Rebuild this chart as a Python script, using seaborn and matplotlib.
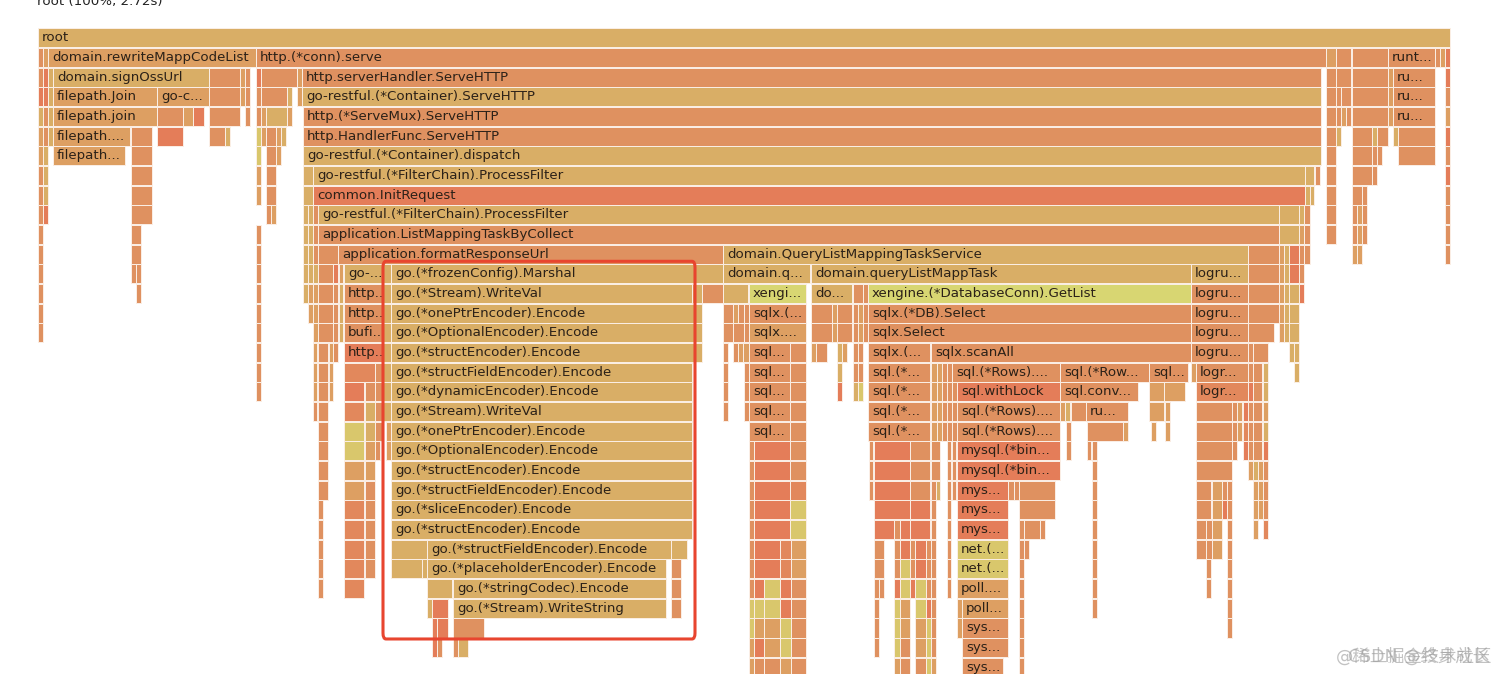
import matplotlib
matplotlib.use("Agg")
import matplotlib.pyplot as plt
import seaborn as sns
from matplotlib.patches import FancyBboxPatch

# Frames per stack depth: (start, stop, colour group, label). One sample is about 2ms
depth_00 = [(38, 1449, "a", "root")]
depth_01 = [(38, 42, "o", ""), (43, 47, "m", ""), (48, 255, "m", "domain.rewriteMappCodeList"),
            (256, 1325, "o", "http.(*conn).serve"), (1326, 1335, "m", ""), (1336, 1350, "o", ""),
            (1352, 1387, "o", ""), (1388, 1434, "o", "runt..."), (1435, 1439, "o", ""),
            (1440, 1444, "m", ""), (1445, 1449, "r", "")]
depth_02 = [(38, 42, "o", ""), (43, 47, "r", ""), (48, 52, "a", ""), (53, 208, "a", "domain.signOssUrl"),
            (209, 239, "o", ""), (240, 244, "m", ""), (245, 249, "o", ""), (256, 260, "r", ""),
            (261, 296, "o", ""), (297, 301, "m", ""), (302, 1320, "o", "http.serverHandler.ServeHTTP"),
            (1326, 1335, "o", ""), (1336, 1350, "o", ""), (1352, 1387, "o", ""), (1388, 1392, "m", ""),
            (1393, 1434, "o", "ru..."), (1445, 1449, "r", "")]
depth_03 = [(38, 42, "r", ""), (43, 47, "r", ""), (48, 52, "a", ""), (53, 156, "m", "filepath.Join"),
            (157, 208, "m", "go-c..."), (209, 239, "o", ""), (240, 244, "m", ""), (245, 249, "o", ""),
            (256, 260, "o", ""), (261, 286, "o", ""), (287, 291, "a", ""), (297, 301, "m", ""),
            (302, 1320, "a", "go-restful.(*Container).ServeHTTP"), (1326, 1335, "o", ""), (1336, 1340, "o", ""),
            (1341, 1350, "o", ""), (1352, 1387, "o", ""), (1388, 1392, "m", ""), (1393, 1434, "o", "ru..."),
            (1445, 1449, "o", "")]
depth_04 = [(38, 42, "a", ""), (43, 47, "o", ""), (48, 52, "a", ""), (53, 156, "m", "filepath.join"),
            (157, 182, "o", ""), (183, 192, "m", ""), (193, 203, "r", ""), (209, 239, "o", ""),
            (245, 249, "o", ""), (256, 260, "o", ""), (261, 265, "m", ""), (266, 286, "a", ""),
            (287, 291, "m", ""), (303, 1320, "o", "http.(*ServeMux).ServeHTTP"), (1326, 1335, "o", ""),
            (1336, 1340, "o", ""), (1341, 1345, "m", ""), (1346, 1350, "o", ""), (1352, 1387, "o", ""),
            (1388, 1392, "m", ""), (1393, 1434, "o", "ru..."), (1445, 1449, "m", "")]
depth_05 = [(38, 42, "m", ""), (43, 47, "o", ""), (48, 52, "a", ""), (53, 129, "m", "filepath...."),
            (131, 151, "o", ""), (157, 182, "r", ""), (209, 224, "o", ""), (225, 229, "a", ""),
            (256, 260, "y", ""), (261, 265, "m", ""), (266, 275, "o", ""), (276, 280, "m", ""),
            (281, 285, "a", ""), (303, 1320, "o", "http.HandlerFunc.ServeHTTP"), (1326, 1335, "o", ""),
            (1336, 1340, "a", ""), (1352, 1371, "o", ""), (1372, 1376, "a", ""), (1377, 1387, "o", ""),
            (1393, 1397, "a", ""), (1398, 1434, "o", ""), (1445, 1449, "r", "")]
depth_06 = [(38, 42, "m", ""), (43, 47, "a", ""), (53, 124, "m", "filepath..."), (131, 151, "o", ""),
            (256, 260, "y", ""), (266, 275, "o", ""), (276, 280, "m", ""),
            (303, 1320, "a", "go-restful.(*Container).dispatch"), (1326, 1335, "o", ""), (1352, 1371, "o", ""),
            (1372, 1376, "o", ""), (1377, 1381, "o", ""), (1398, 1434, "o", ""), (1445, 1449, "o", "")]
depth_07 = [(38, 42, "o", ""), (43, 47, "a", ""), (131, 151, "o", ""), (256, 260, "m", ""),
            (266, 275, "o", ""), (303, 312, "a", ""), (313, 1304, "a", "go-restful.(*FilterChain).ProcessFilter"),
            (1305, 1313, "a", ""), (1315, 1319, "o", ""), (1326, 1335, "o", ""), (1352, 1371, "o", ""),
            (1372, 1376, "o", ""), (1445, 1449, "r", "")]
depth_08 = [(38, 42, "o", ""), (43, 47, "a", ""), (131, 151, "o", ""), (256, 260, "m", ""),
            (266, 275, "o", ""), (303, 312, "a", ""), (313, 1304, "r", "common.InitRequest"),
            (1305, 1309, "a", ""), (1310, 1313, "a", ""), (1326, 1335, "o", ""), (1352, 1361, "o", ""),
            (1362, 1366, "o", ""), (1445, 1449, "o", "")]
depth_09 = [(38, 42, "o", ""), (43, 47, "r", ""), (131, 151, "o", ""), (266, 270, "o", ""), (271, 275, "m", ""),
            (303, 307, "a", ""), (308, 312, "a", ""), (313, 317, "o", ""),
            (318, 1278, "a", "go-restful.(*FilterChain).ProcessFilter"), (1279, 1298, "a", ""),
            (1299, 1303, "a", ""), (1304, 1309, "o", ""), (1326, 1335, "o", ""), (1352, 1356, "o", ""),
            (1357, 1361, "m", ""), (1362, 1366, "o", ""), (1445, 1449, "o", "")]
depth_10 = [(38, 42, "o", ""), (131, 140, "o", ""), (256, 260, "o", ""), (303, 307, "a", ""), (308, 312, "a", ""),
            (313, 317, "o", ""), (318, 1278, "o", "application.ListMappingTaskByCollect"), (1279, 1298, "a", ""),
            (1299, 1303, "m", ""), (1304, 1309, "o", ""), (1326, 1335, "o", ""), (1352, 1356, "o", ""),
            (1357, 1361, "m", ""), (1362, 1366, "o", ""), (1445, 1449, "o", "")]
depth_11 = [(38, 42, "o", ""), (131, 140, "o", ""), (256, 260, "o", ""), (303, 307, "a", ""), (308, 312, "a", ""),
            (313, 317, "o", ""), (318, 337, "o", ""), (338, 722, "o", "application.formatResponseUrl"),
            (723, 1247, "a", "domain.QueryListMappingTaskService"), (1248, 1278, "o", ""), (1279, 1283, "m", ""),
            (1284, 1288, "a", ""), (1289, 1298, "r", ""), (1299, 1303, "o", ""), (1304, 1309, "o", ""),
            (1352, 1356, "m", ""), (1357, 1361, "m", ""), (1445, 1449, "o", "")]
depth_12 = [(38, 42, "o", ""), (131, 135, "o", ""), (136, 140, "o", ""), (256, 260, "o", ""), (303, 307, "a", ""),
            (308, 312, "a", ""), (313, 317, "a", ""), (318, 332, "o", ""), (333, 337, "r", ""), (339, 342, "m", ""),
            (344, 382, "a", "go-..."), (383, 390, "a", ""), (391, 722, "a", "go.(*frozenConfig).Marshal"),
            (723, 809, "a", "domain.q..."), (811, 1190, "a", "domain.queryListMappTask"),
            (1191, 1247, "a", "logru..."), (1248, 1278, "o", ""), (1279, 1283, "m", ""), (1284, 1288, "a", ""),
            (1289, 1298, "r", ""), (1299, 1303, "o", "")]
depth_13 = [(38, 42, "o", ""), (136, 140, "o", ""), (256, 260, "o", ""), (303, 307, "a", ""), (308, 312, "m", ""),
            (313, 317, "m", ""), (318, 332, "o", ""), (333, 337, "o", ""), (339, 342, "a", ""),
            (344, 382, "o", "http.."), (383, 390, "a", ""), (391, 691, "a", "go.(*Stream).WriteVal"),
            (692, 701, "a", ""), (702, 722, "o", ""), (723, 747, "a", ""), (749, 805, "g", "xengi..."),
            (811, 851, "a", "do..."), (853, 862, "o", ""), (863, 867, "o", ""),
            (868, 1190, "g", "xengine.(*DatabaseConn).GetList"), (1191, 1247, "o", "logru..."), (1248, 1278, "o", ""),
            (1279, 1283, "m", ""), (1284, 1288, "a", ""), (1289, 1298, "a", ""), (1299, 1303, "r", "")]
depth_14 = [(38, 42, "o", ""), (256, 260, "o", ""), (308, 312, "m", ""), (313, 317, "m", ""), (318, 332, "o", ""),
            (333, 337, "o", ""), (339, 342, "a", ""), (344, 382, "o", "http.."), (383, 390, "a", ""),
            (391, 701, "a", "go.(*onePtrEncoder).Encode"), (723, 732, "o", ""), (733, 737, "m", ""), (738, 743, "o", ""),
            (744, 748, "o", ""), (749, 805, "o", "sqlx.(..."), (811, 831, "o", ""), (832, 836, "m", ""),
            (837, 851, "o", ""), (853, 857, "o", ""), (858, 862, "m", ""), (863, 867, "o", ""),
            (868, 1190, "o", "sqlx.(*DB).Select"), (1191, 1247, "o", "logru..."), (1248, 1278, "o", ""),
            (1279, 1283, "m", ""), (1284, 1288, "a", ""), (1289, 1298, "a", "")]
depth_15 = [(38, 42, "o", ""), (256, 260, "o", ""), (313, 317, "m", ""), (318, 332, "o", ""), (333, 337, "o", ""),
            (339, 342, "a", ""), (344, 382, "o", "bufi..."), (383, 390, "a", ""),
            (391, 701, "a", "go.(*OptionalEncoder).Encode"), (723, 732, "o", ""), (733, 743, "o", ""), (744, 748, "o", ""),
            (749, 805, "m", "sqlx...."), (811, 831, "o", ""), (832, 836, "m", ""), (837, 851, "o", ""),
            (853, 857, "o", ""), (858, 862, "m", ""), (863, 867, "o", ""), (868, 1190, "o", "sqlx.Select"),
            (1191, 1247, "o", "logru..."), (1248, 1273, "o", ""), (1279, 1283, "m", ""), (1284, 1288, "a", ""),
            (1289, 1298, "a", "")]
depth_16 = [(256, 260, "o", ""), (313, 316, "m", ""), (318, 327, "o", ""), (329, 332, "m", ""), (333, 337, "o", ""),
            (344, 382, "r", "http.."), (383, 390, "a", ""), (391, 701, "a", "go.(*structEncoder).Encode"),
            (723, 727, "o", ""), (733, 737, "o", ""), (738, 742, "m", ""), (743, 748, "m", ""),
            (749, 789, "o", "sql..."), (790, 805, "o", ""), (811, 815, "m", ""), (816, 826, "o", ""),
            (837, 841, "a", ""), (842, 846, "m", ""), (853, 857, "o", ""), (858, 862, "o", ""),
            (868, 929, "o", "sqlx.(..."), (931, 1190, "o", "sqlx.scanAll"), (1191, 1247, "o", "logru..."),
            (1248, 1252, "o", ""), (1253, 1267, "o", ""), (1289, 1293, "a", ""), (1294, 1298, "a", "")]
depth_17 = [(256, 260, "o", ""), (313, 316, "m", ""), (318, 327, "o", ""), (329, 332, "m", ""), (344, 374, "s", ""),
            (375, 382, "o", ""), (383, 390, "a", ""), (391, 691, "a", "go.(*structFieldEncoder).Encode"),
            (723, 727, "o", ""), (744, 748, "o", ""), (749, 789, "o", "sql..."), (790, 805, "o", ""),
            (837, 841, "a", ""), (853, 857, "o", ""), (858, 862, "o", ""), (868, 929, "o", "sql.(*..."),
            (931, 936, "m", ""), (937, 941, "m", ""), (942, 946, "o", ""), (947, 951, "o", ""),
            (952, 1059, "o", "sql.(*Rows)...."), (1060, 1148, "o", "sql.(*Row..."), (1149, 1187, "o", "sql..."),
            (1191, 1195, "m", ""), (1196, 1247, "o", "logr..."), (1248, 1252, "o", ""), (1253, 1261, "o", ""),
            (1263, 1267, "a", ""), (1294, 1298, "a", "")]
depth_18 = [(256, 260, "o", ""), (313, 316, "m", ""), (318, 327, "o", ""), (329, 332, "m", ""), (344, 363, "r", ""),
            (365, 374, "o", ""), (375, 382, "o", ""), (383, 390, "a", ""), (391, 691, "a", "go.(*dynamicEncoder).Encode"),
            (723, 727, "o", ""), (744, 748, "o", ""), (749, 789, "o", "sql..."), (790, 805, "o", ""),
            (837, 841, "r", ""), (853, 857, "a", ""), (858, 862, "y", ""), (868, 929, "o", "sql.(*..."),
            (931, 936, "m", ""), (937, 941, "m", ""), (942, 946, "o", ""), (947, 951, "o", ""), (952, 956, "o", ""),
            (957, 1059, "r", "sql.withLock"), (1060, 1137, "o", "sql.conv..."), (1149, 1163, "m", ""),
            (1164, 1184, "m", ""), (1196, 1247, "s", "logr..."), (1248, 1252, "r", ""), (1253, 1261, "o", ""),
            (1263, 1267, "a", "")]
depth_19 = [(313, 316, "o", ""), (318, 327, "o", ""), (344, 363, "s", ""), (365, 374, "a", ""), (375, 382, "o", ""),
            (383, 390, "a", ""), (391, 691, "a", "go.(*Stream).WriteVal"), (723, 727, "o", ""), (744, 748, "o", ""),
            (749, 789, "o", "sql..."), (790, 805, "o", ""), (868, 929, "o", "sql.(*..."), (931, 936, "m", ""),
            (937, 941, "m", ""), (942, 946, "o", ""), (947, 951, "o", ""), (952, 956, "o", ""),
            (957, 1059, "o", "sql.(*Rows)...."), (1060, 1064, "m", ""), (1065, 1069, "a", ""), (1071, 1085, "o", ""),
            (1086, 1127, "o", "ru..."), (1149, 1163, "m", ""), (1165, 1169, "m", ""), (1196, 1231, "o", ""),
            (1232, 1236, "o", ""), (1237, 1241, "m", ""), (1243, 1247, "r", ""), (1248, 1252, "o", ""),
            (1253, 1261, "o", ""), (1263, 1267, "m", "")]
depth_20 = [(318, 327, "o", ""), (344, 363, "y", ""), (365, 374, "a", ""), (375, 382, "o", ""), (386, 390, "m", ""),
            (391, 691, "a", "go.(*onePtrEncoder).Encode"), (749, 789, "o", "sql..."), (790, 805, "o", ""),
            (868, 929, "o", "sql.(*..."), (931, 936, "m", ""), (937, 941, "m", ""), (942, 946, "o", ""),
            (947, 951, "o", ""), (952, 956, "o", ""), (957, 1059, "o", "sql.(*Rows)...."), (1066, 1070, "o", ""),
            (1087, 1122, "o", ""), (1123, 1127, "m", ""), (1151, 1155, "m", ""), (1165, 1169, "m", ""),
            (1196, 1231, "o", ""), (1232, 1236, "o", ""), (1237, 1241, "m", ""), (1243, 1247, "s", ""),
            (1248, 1252, "o", ""), (1253, 1261, "o", ""), (1263, 1267, "a", "")]
depth_21 = [(318, 327, "o", ""), (344, 363, "y", ""), (365, 374, "m", ""), (375, 379, "o", ""), (386, 390, "m", ""),
            (391, 691, "a", "go.(*OptionalEncoder).Encode"), (749, 753, "o", ""), (754, 789, "r", ""), (790, 805, "o", ""),
            (869, 872, "o", ""), (874, 909, "r", ""), (910, 929, "o", ""), (931, 939, "o", ""), (947, 950, "o", ""),
            (952, 955, "o", ""), (957, 1059, "r", "mysql.(*bin..."), (1066, 1070, "o", ""), (1087, 1090, "o", ""),
            (1092, 1096, "o", ""), (1196, 1231, "o", ""), (1232, 1236, "o", ""), (1243, 1247, "r", ""),
            (1248, 1252, "o", ""), (1253, 1261, "o", ""), (1263, 1267, "r", "")]
depth_22 = [(318, 327, "o", ""), (344, 363, "m", ""), (365, 374, "m", ""), (391, 691, "a", "go.(*structEncoder).Encode"),
            (749, 753, "o", ""), (754, 789, "r", ""), (790, 805, "o", ""), (869, 872, "o", ""), (874, 909, "r", ""),
            (910, 929, "o", ""), (931, 939, "o", ""), (947, 950, "o", ""), (952, 955, "o", ""),
            (957, 1059, "r", "mysql.(*bin..."), (1092, 1096, "o", ""), (1196, 1231, "o", ""), (1248, 1252, "m", ""),
            (1253, 1257, "a", ""), (1258, 1262, "m", ""), (1263, 1267, "o", "")]
depth_23 = [(318, 327, "o", ""), (344, 363, "m", ""), (365, 374, "o", ""),
            (391, 691, "a", "go.(*structFieldEncoder).Encode"), (749, 753, "o", ""), (754, 789, "r", ""), (790, 805, "s", ""),
            (869, 872, "o", ""), (874, 909, "r", ""), (910, 929, "o", ""), (931, 935, "o", ""), (936, 939, "a", ""),
            (947, 950, "o", ""), (952, 955, "o", ""), (957, 1007, "r", "mys..."), (1008, 1013, "o", ""),
            (1014, 1018, "o", ""), (1019, 1054, "o", ""), (1092, 1096, "o", ""), (1196, 1210, "o", ""),
            (1212, 1221, "m", ""), (1222, 1226, "o", ""), (1227, 1231, "o", ""), (1253, 1257, "m", ""),
            (1258, 1262, "m", ""), (1263, 1267, "o", "")]
depth_24 = [(318, 322, "o", ""), (344, 363, "s", ""), (365, 374, "o", ""), (391, 691, "a", "go.(*sliceEncoder).Encode"),
            (749, 753, "o", ""), (754, 789, "r", ""), (790, 805, "y", ""), (874, 909, "r", ""), (910, 929, "r", ""),
            (931, 935, "o", ""), (947, 950, "o", ""), (957, 1007, "r", "mys..."), (1019, 1054, "o", ""),
            (1092, 1096, "o", ""), (1196, 1210, "o", ""), (1212, 1221, "m", ""), (1222, 1226, "r", ""),
            (1227, 1231, "o", ""), (1253, 1257, "m", ""), (1258, 1262, "m", ""), (1263, 1267, "o", "")]
depth_25 = [(318, 322, "o", ""), (344, 363, "s", ""), (365, 374, "o", ""), (391, 691, "a", "go.(*structEncoder).Encode"),
            (749, 753, "o", ""), (754, 789, "r", ""), (790, 805, "y", ""), (874, 893, "r", ""), (894, 899, "o", ""),
            (900, 909, "r", ""), (910, 929, "r", ""), (931, 935, "o", ""), (947, 950, "o", ""),
            (957, 1007, "r", "mys..."), (1019, 1023, "o", ""), (1024, 1039, "o", ""), (1040, 1044, "o", ""),
            (1092, 1096, "o", ""), (1196, 1205, "o", ""), (1206, 1211, "o", ""), (1212, 1221, "m", ""),
            (1227, 1231, "o", ""), (1253, 1257, "m", ""), (1263, 1267, "s", "")]
depth_26 = [(318, 322, "o", ""), (344, 363, "s", ""), (365, 374, "o", ""), (391, 426, "a", ""),
            (427, 670, "a", "go.(*structFieldEncoder).Encode"), (671, 686, "a", ""), (749, 753, "o", ""), (754, 779, "r", ""),
            (780, 790, "s", ""), (791, 805, "m", ""), (874, 883, "o", ""), (894, 899, "o", ""), (900, 909, "r", ""),
            (910, 914, "o", ""), (915, 925, "r", ""), (926, 930, "o", ""), (931, 935, "o", ""), (947, 950, "o", ""),
            (957, 1007, "y", "net.(..."), (1019, 1023, "o", ""), (1024, 1028, "o", ""), (1092, 1096, "o", ""),
            (1196, 1205, "o", ""), (1206, 1211, "o", ""), (1212, 1221, "m", ""), (1227, 1231, "o", "")]
depth_27 = [(318, 322, "o", ""), (344, 363, "s", ""), (365, 374, "o", ""), (391, 421, "a", ""), (422, 426, "a", ""),
            (427, 665, "a", "go.(*placeholderEncoder).Encode"), (671, 680, "o", ""), (749, 753, "o", ""), (754, 779, "r", ""),
            (780, 790, "s", ""), (791, 805, "m", ""), (874, 883, "o", ""), (894, 899, "o", ""), (900, 909, "y", ""),
            (910, 914, "o", ""), (915, 925, "r", ""), (926, 930, "o", ""), (931, 935, "o", ""), (947, 950, "o", ""),
            (957, 1007, "y", "net.(..."), (1019, 1023, "o", ""), (1092, 1096, "o", ""), (1206, 1210, "o", ""),
            (1227, 1231, "o", "")]
depth_28 = [(318, 322, "o", ""), (344, 363, "s", ""), (427, 451, "a", ""), (453, 665, "a", "go.(*stringCodec).Encode"),
            (671, 680, "o", ""), (749, 753, "o", ""), (754, 763, "r", ""), (764, 779, "y", ""), (780, 790, "r", ""),
            (791, 805, "o", ""), (874, 878, "o", ""), (879, 883, "o", ""), (894, 899, "r", ""), (900, 909, "y", ""),
            (910, 914, "r", ""), (915, 925, "y", ""), (926, 930, "o", ""), (931, 935, "o", ""), (947, 950, "o", ""),
            (957, 1007, "m", "poll...."), (1019, 1023, "o", ""), (1092, 1096, "o", ""), (1206, 1210, "o", ""),
            (1227, 1231, "o", "")]
depth_29 = [(427, 431, "a", ""), (432, 447, "r", ""), (453, 665, "a", "go.(*Stream).WriteString"), (671, 680, "o", ""),
            (749, 753, "y", ""), (754, 763, "y", ""), (764, 779, "y", ""), (780, 790, "r", ""), (791, 805, "o", ""),
            (874, 878, "o", ""), (894, 899, "y", ""), (900, 909, "m", ""), (915, 925, "y", ""), (926, 930, "r", ""),
            (931, 935, "o", ""), (957, 961, "m", ""), (962, 1007, "m", "poll..."), (1019, 1023, "o", ""),
            (1092, 1096, "o", ""), (1227, 1231, "o", "")]
depth_30 = [(432, 436, "r", ""), (437, 447, "r", ""), (453, 483, "o", ""), (749, 753, "y", ""), (754, 763, "m", ""),
            (764, 779, "m", ""), (780, 790, "y", ""), (791, 805, "o", ""), (874, 878, "o", ""), (894, 899, "y", ""),
            (900, 909, "m", ""), (915, 925, "m", ""), (926, 930, "y", ""), (931, 935, "o", ""), (957, 961, "m", ""),
            (962, 1007, "o", "sys..."), (1019, 1023, "o", ""), (1227, 1231, "o", "")]
depth_31 = [(432, 436, "r", ""), (437, 441, "o", ""), (453, 457, "o", ""), (458, 467, "a", ""), (749, 753, "m", ""),
            (754, 763, "r", ""), (764, 779, "m", ""), (780, 790, "y", ""), (791, 805, "o", ""), (874, 878, "o", ""),
            (894, 899, "y", ""), (900, 909, "o", ""), (915, 925, "m", ""), (926, 930, "y", ""), (931, 935, "o", ""),
            (962, 1007, "o", "sys..."), (1019, 1023, "o", "")]
depth_32 = [(749, 753, "m", ""), (754, 763, "o", ""), (764, 779, "o", ""), (780, 790, "m", ""), (791, 805, "o", ""),
            (894, 899, "m", ""), (900, 909, "o", ""), (915, 925, "o", ""), (926, 930, "y", ""), (931, 935, "m", ""),
            (962, 1002, "o", "sys..."), (1019, 1023, "o", "")]

depths = [depth_00, depth_01, depth_02, depth_03, depth_04, depth_05, depth_06, depth_07, depth_08,
          depth_09, depth_10, depth_11, depth_12, depth_13, depth_14, depth_15, depth_16, depth_17,
          depth_18, depth_19, depth_20, depth_21, depth_22, depth_23, depth_24, depth_25, depth_26,
          depth_27, depth_28, depth_29, depth_30, depth_31, depth_32]

title = "root (100%, 2.72s)"
watermarks = ["@稀土掘金技术社区", "CSDN @终身成长"]

# Frame colours
colors = {"o": "#DF9160", "m": "#DD9F62", "a": "#D9AE66", "r": "#E47D59", "s": "#E2885C",
          "y": "#D9C76C", "g": "#D8D672"}

sns.set_theme(style="white")
plt.rcParams["font.family"] = ["DejaVu Sans", "Noto Sans CJK SC"]

fig = plt.figure(figsize=(15, 6.74), dpi=100)
ax = fig.add_axes([0, 0, 1, 1])

for d, frames in enumerate(depths):
    for start, stop, group, label in frames:
        sns.barplot(x=[stop - start + 1], y=[d], left=start, orient="y", native_scale=True, width=0.97,
                    color=colors[group], saturation=1, errorbar=None, edgecolor="#FBEFE6", linewidth=0.7, ax=ax)
        if label:
            ax.text(start + 4, d, label, fontsize=9.6, color="#2B2118", va="center", ha="left")

ax.set_xlim(0, 1500)
ax.set_ylim(32.34, -1.923)
ax.axis("off")

ax.text(37, -1.86, title, fontsize=9.6, color="#222222", va="center", ha="left")

# Highlight box around the encoder frames
box = FancyBboxPatch((383, 11.36), 312, 19.2, boxstyle="round,pad=0,rounding_size=3", mutation_aspect=0.1,
                     facecolor="none", edgecolor="#E8452F", linewidth=2.2, zorder=5)
ax.add_patch(box)

# Overlapping site watermarks
fig.text(1336 / 1500, 1 - 657 / 674, watermarks[0], fontsize=12.5, color="#9A9A9A", alpha=0.6, va="center")
fig.text(1348 / 1500, 1 - 657 / 674, watermarks[1], fontsize=12.5, color="#9A9A9A", alpha=0.6, va="center")

fig.savefig("out.png", dpi=100)
